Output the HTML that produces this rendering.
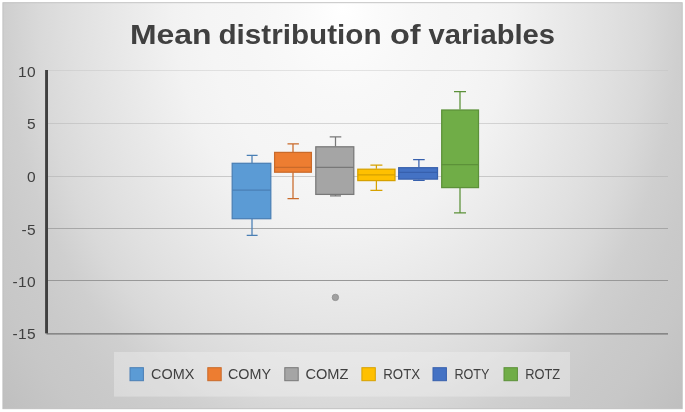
<!DOCTYPE html>
<html>
<head>
<meta charset="utf-8">
<title>Mean distribution of variables</title>
<style>
html,body{margin:0;padding:0;background:#fff;}
body{width:685px;height:412px;overflow:hidden;}
svg{display:block;}
text{font-family:"Liberation Sans",sans-serif;}
</style>
</head>
<body>
<svg width="685" height="412" viewBox="0 0 685 412">
  <defs>
    <radialGradient id="bg" gradientUnits="userSpaceOnUse" cx="0" cy="0" r="1" gradientTransform="translate(342.5 8) scale(472.5 620.2)">
      <stop offset="0.0000" stop-color="#ffffff"/>
      <stop offset="0.0714" stop-color="#fbfbfb"/>
      <stop offset="0.1429" stop-color="#f8f8f8"/>
      <stop offset="0.2143" stop-color="#f6f6f6"/>
      <stop offset="0.2857" stop-color="#f5f5f5"/>
      <stop offset="0.3571" stop-color="#f2f2f2"/>
      <stop offset="0.4286" stop-color="#ececec"/>
      <stop offset="0.5000" stop-color="#e6e6e6"/>
      <stop offset="0.5714" stop-color="#e0e0e0"/>
      <stop offset="0.6429" stop-color="#d9d9d9"/>
      <stop offset="0.7143" stop-color="#cfcfcf"/>
      <stop offset="0.7857" stop-color="#cacaca"/>
      <stop offset="0.8571" stop-color="#c7c7c7"/>
      <stop offset="0.9286" stop-color="#c2c2c2"/>
      <stop offset="1.0000" stop-color="#bcbcbc"/>
    </radialGradient>
  </defs>
  <rect x="0" y="0" width="685" height="412" fill="#ffffff"/>
  <rect x="2.9" y="2.7" width="679.3" height="406" fill="url(#bg)" stroke="#bebebe" stroke-width="0.9"/>

  <!-- title -->
  <g font-size="28" font-weight="bold" fill="#404040">
    <text id="w1" x="129.9" y="43.7" textLength="81.6" lengthAdjust="spacingAndGlyphs">Mean</text>
    <text id="w2" x="218.5" y="43.7" textLength="163.1" lengthAdjust="spacingAndGlyphs">distribution</text>
    <text id="w3" x="389.9" y="43.7" textLength="30.7" lengthAdjust="spacingAndGlyphs">of</text>
    <text id="w4" x="428.5" y="43.7" textLength="126.5" lengthAdjust="spacingAndGlyphs">variables</text>
  </g>

  <!-- gridlines -->
  <g stroke-width="1" shape-rendering="crispEdges">
    <line x1="47" y1="70.5" x2="668" y2="70.5" stroke="#bdbdbd" stroke-opacity="0.38"/>
    <line x1="47" y1="123.5" x2="668" y2="123.5" stroke="#b4b4b4" stroke-opacity="0.5"/>
    <line x1="47" y1="176.5" x2="668" y2="176.5" stroke="#b4b4b4" stroke-opacity="0.66"/>
    <line x1="47" y1="228.5" x2="668" y2="228.5" stroke="#a2a2a2" stroke-opacity="0.9"/>
    <line x1="47" y1="280.5" x2="668" y2="280.5" stroke="#989898"/>
  </g>
  <!-- axes -->
  <line x1="46.5" y1="333.9" x2="668" y2="333.9" stroke="#727272" stroke-width="1.15"/>
  <rect x="45.1" y="70" width="2.9" height="263.4" fill="#404040"/>

  <!-- axis labels -->
  <g font-size="15.5" fill="#404040" text-anchor="end" letter-spacing="0.3">
    <text x="35.9" y="76.8">10</text>
    <text x="35.9" y="129">5</text>
    <text x="35.9" y="181.9">0</text>
    <text x="35.9" y="234.5">-5</text>
    <text x="35.9" y="286.9">-10</text>
    <text x="35.9" y="338.8">-15</text>
  </g>

  <!-- COMX -->
  <g stroke="#4a7fb5" stroke-width="1.25" fill="none">
    <path d="M252 155.3V163M246.7 155.3H257.6M252 219V235.4M246.7 235.4H257.6"/>
    <rect x="232.2" y="163.3" width="38.6" height="55.4" fill="#5b9bd5"/>
    <line x1="232.2" y1="190.2" x2="270.8" y2="190.2"/>
  </g>
  <!-- COMY -->
  <g stroke="#c96a2a" stroke-width="1.25" fill="none">
    <path d="M293 143.9V152M287.5 143.9H298.9M293 172.3V198.7M287.5 198.7H298.9"/>
    <rect x="274.6" y="152.4" width="36.8" height="19.8" fill="#ed7d31"/>
    <line x1="274.6" y1="167.4" x2="311.4" y2="167.4"/>
  </g>
  <!-- COMZ -->
  <g stroke="#787878" stroke-width="1.25" fill="none">
    <path d="M335.5 136.8V146.5M329.7 136.8H341.3M335.5 194.5V195.9M330 195.9H341"/>
    <rect x="315.8" y="146.8" width="38" height="47.6" fill="#a5a5a5"/>
    <line x1="315.8" y1="167.4" x2="353.8" y2="167.4"/>
  </g>
  <circle cx="335.4" cy="297.4" r="3.2" fill="#a0a0a0" stroke="#8c8c8c" stroke-width="0.8"/>
  <!-- ROTX -->
  <g stroke="#d6a100" stroke-width="1.25" fill="none">
    <path d="M376.4 165V168.7M370.4 165H382.4M376.4 180.9V190.3M370.4 190.3H382.4"/>
    <rect x="357.8" y="169.2" width="37.2" height="11.4" fill="#ffc000"/>
    <line x1="357.8" y1="174.8" x2="395" y2="174.8"/>
  </g>
  <!-- ROTY -->
  <g stroke="#3760ad" stroke-width="1.25" fill="none">
    <path d="M418.9 159.5V167.2M413.1 159.5H424.7M418.9 179.6V180.4M413.1 180.4H424.7"/>
    <rect x="398.7" y="167.7" width="38.8" height="11.4" fill="#4472c4"/>
    <line x1="398.7" y1="172.3" x2="437.5" y2="172.3"/>
  </g>
  <!-- ROTZ -->
  <g stroke="#5c9139" stroke-width="1.25" fill="none">
    <path d="M460 91.7V109.5M454 91.7H466M460 188V212.8M454 212.8H466"/>
    <rect x="441.7" y="110" width="36.8" height="77.6" fill="#70ad47"/>
    <line x1="441.7" y1="164.7" x2="478.5" y2="164.7"/>
  </g>

  <!-- legend -->
  <rect x="114" y="352" width="456" height="44.6" fill="#f2f2f2" fill-opacity="0.39"/>
  <g stroke-width="1">
    <rect x="130" y="367.7" width="13.4" height="13" fill="#5b9bd5" stroke="#4a7fb5"/>
    <rect x="207.8" y="367.7" width="13.4" height="13" fill="#ed7d31" stroke="#c96a2a"/>
    <rect x="284.8" y="367.7" width="13.4" height="13" fill="#a5a5a5" stroke="#787878"/>
    <rect x="361.9" y="367.7" width="13.4" height="13" fill="#ffc000" stroke="#d6a100"/>
    <rect x="433" y="367.7" width="13.4" height="13" fill="#4472c4" stroke="#3760ad"/>
    <rect x="504" y="367.7" width="13.4" height="13" fill="#70ad47" stroke="#5c9139"/>
  </g>
  <g font-size="14.4" fill="#404040">
    <text x="151" y="379.3" textLength="43.3" lengthAdjust="spacingAndGlyphs">COMX</text>
    <text x="228" y="379.3" textLength="43" lengthAdjust="spacingAndGlyphs">COMY</text>
    <text x="305.4" y="379.3" textLength="43" lengthAdjust="spacingAndGlyphs">COMZ</text>
    <text x="383.3" y="379.3" textLength="36.8" lengthAdjust="spacingAndGlyphs">ROTX</text>
    <text x="454.4" y="379.3" textLength="35.1" lengthAdjust="spacingAndGlyphs">ROTY</text>
    <text x="525.2" y="379.3" textLength="35" lengthAdjust="spacingAndGlyphs">ROTZ</text>
  </g>
</svg>
</body>
</html>
